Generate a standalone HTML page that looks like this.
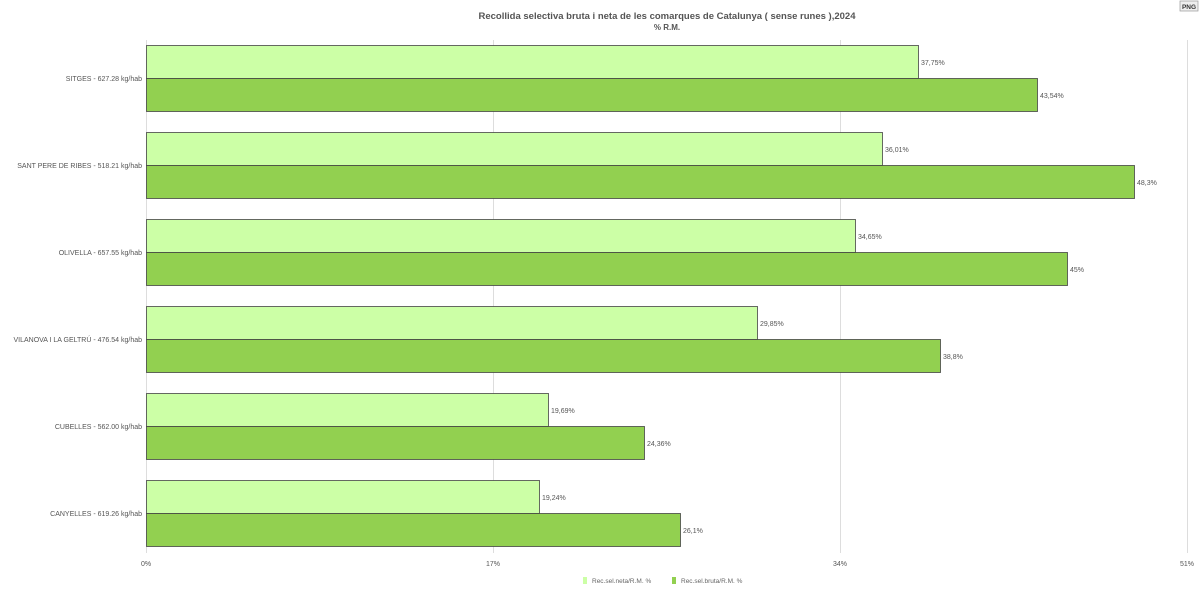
<!DOCTYPE html>
<html><head><meta charset="utf-8"><style>
body{margin:0;background:#fff;}
svg{display:block;font-family:"Liberation Sans",sans-serif;}
</style></head><body>
<svg width="1200" height="601" xmlns="http://www.w3.org/2000/svg">
<rect width="1200" height="601" fill="#fff"/>
<text x="667" y="19" font-size="9.5" font-weight="bold" fill="#555" text-anchor="middle">Recollida selectiva bruta i neta de les comarques de Catalunya ( sense runes ),2024</text>
<text x="667" y="30" font-size="8" font-weight="bold" fill="#555" text-anchor="middle">% R.M.</text>
<rect x="1180" y="1" width="18" height="10" fill="#eee" stroke="#999" stroke-width="0.7"/>
<text x="1189" y="9" font-size="6.5" font-weight="bold" fill="#333" text-anchor="middle">PNG</text>
<g stroke="#ddd" stroke-width="1">
<line x1="146.5" y1="40" x2="146.5" y2="553"/>
<line x1="493.5" y1="40" x2="493.5" y2="553"/>
<line x1="840.5" y1="40" x2="840.5" y2="553"/>
<line x1="1187.5" y1="40" x2="1187.5" y2="553"/>
</g>
<g font-size="7" fill="#555" text-anchor="middle">
<text x="146" y="566">0%</text><text x="493" y="566">17%</text><text x="840" y="566">34%</text><text x="1187" y="566">51%</text>
</g>
<g stroke="#444" stroke-width="0.8" font-size="7" fill="#555">
<!-- groups: top 45 step 87 -->
<rect x="146.5" y="45.5" width="772" height="33" fill="#ccffa6"/>
<rect x="146.5" y="78.5" width="891" height="33" fill="#92d050"/>
<rect x="146.5" y="132.5" width="736" height="33" fill="#ccffa6"/>
<rect x="146.5" y="165.5" width="988" height="33" fill="#92d050"/>
<rect x="146.5" y="219.5" width="709" height="33" fill="#ccffa6"/>
<rect x="146.5" y="252.5" width="921" height="33" fill="#92d050"/>
<rect x="146.5" y="306.5" width="611" height="33" fill="#ccffa6"/>
<rect x="146.5" y="339.5" width="794" height="33" fill="#92d050"/>
<rect x="146.5" y="393.5" width="402" height="33" fill="#ccffa6"/>
<rect x="146.5" y="426.5" width="498" height="33" fill="#92d050"/>
<rect x="146.5" y="480.5" width="393" height="33" fill="#ccffa6"/>
<rect x="146.5" y="513.5" width="534" height="33" fill="#92d050"/>
</g>
<g font-size="7" fill="#555">
<text x="921" y="65">37,75%</text><text x="1040" y="98">43,54%</text>
<text x="885" y="152">36,01%</text><text x="1137" y="185">48,3%</text>
<text x="858" y="239">34,65%</text><text x="1070" y="272">45%</text>
<text x="760" y="326">29,85%</text><text x="943" y="359">38,8%</text>
<text x="551" y="413">19,69%</text><text x="647" y="446">24,36%</text>
<text x="542" y="500">19,24%</text><text x="683" y="533">26,1%</text>
</g>
<g font-size="7" fill="#555" text-anchor="end">
<text x="142" y="81">SITGES - 627.28 kg/hab</text>
<text x="142" y="168">SANT PERE DE RIBES - 518.21 kg/hab</text>
<text x="142" y="255">OLIVELLA - 657.55 kg/hab</text>
<text x="142" y="342">VILANOVA I LA GELTRÚ - 476.54 kg/hab</text>
<text x="142" y="429">CUBELLES - 562.00 kg/hab</text>
<text x="142" y="516">CANYELLES - 619.26 kg/hab</text>
</g>
<rect x="583" y="577" width="4" height="7" fill="#ccffa6"/>
<text x="592" y="583" font-size="6.5" fill="#666">Rec.sel.neta/R.M. %</text>
<rect x="672" y="577" width="4" height="7" fill="#92d050"/>
<text x="681" y="583" font-size="6.5" fill="#666">Rec.sel.bruta/R.M. %</text>
</svg>
</body></html>
